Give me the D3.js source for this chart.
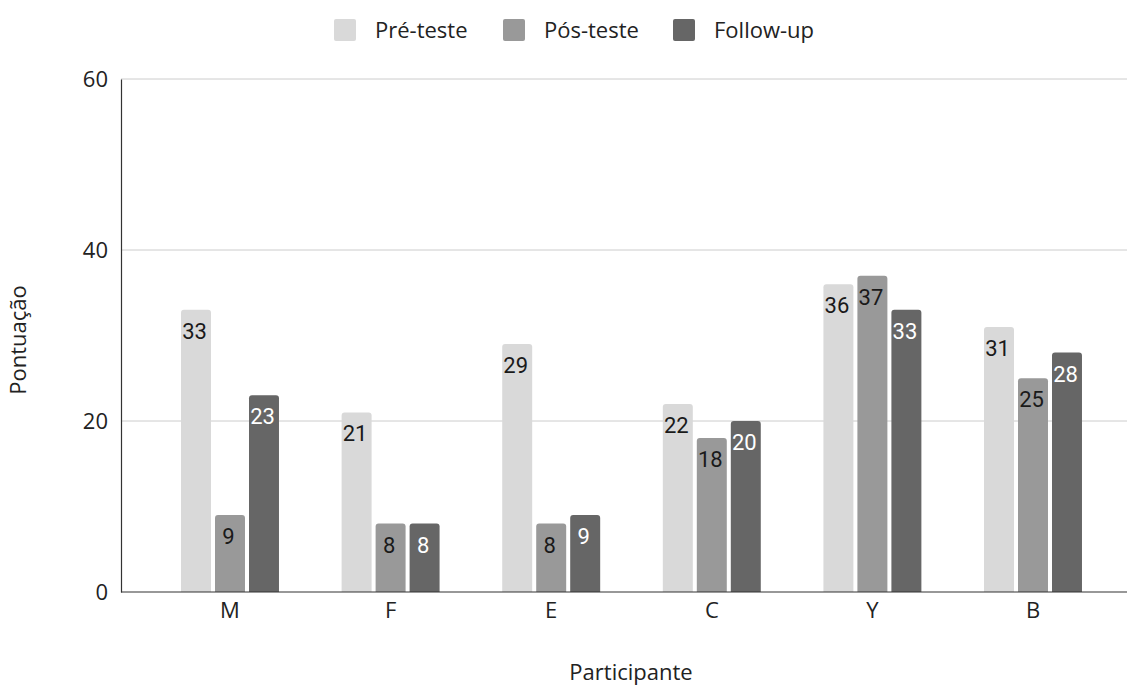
<!DOCTYPE html>
<html>
<head>
<meta charset="utf-8">
<script src="https://cdn.jsdelivr.net/npm/d3@7/dist/d3.min.js"></script>
<style>
  html, body { margin: 0; padding: 0; background: #fff; }
  svg { display: block; }
</style>
</head>
<body>
<svg id="chart" width="1127" height="687"></svg>
<script>
// Participants on the x axis
const participants = ["M", "F", "E", "C", "Y", "B"];
// Series names, in legend order
const seriesNames = ["Pré-teste", "Pós-teste", "Follow-up"];
// Scores per series, one value per participant
const preTeste   = [33, 21, 29, 22, 36, 31];
const posTeste   = [9, 8, 8, 18, 37, 25];
const followUp   = [23, 8, 9, 20, 33, 28];
const yTicks = [0, 20, 40, 60];

const seriesValues = [preTeste, posTeste, followUp];
const colors = ["#d9d9d9", "#999999", "#666666"];
const labelColors = ["#1a1a1a", "#1a1a1a", "#ffffff"];

const svg = d3.select("#chart");
const plot = { left: 121, right: 1127, top: 79, bottom: 592 };
const axisFont = "'Open Sans', 'Noto Sans', sans-serif";

const x0 = d3.scaleBand()
  .domain(participants)
  .range([149.7, 1113.3])
  .paddingInner(0.39)
  .paddingOuter(0.195);

const x1 = d3.scaleBand()
  .domain(seriesNames)
  .range([0, x0.bandwidth()])
  .paddingInner(0.118);

const y = d3.scaleLinear().domain([0, 60]).range([plot.bottom, plot.top]);

// Horizontal gridlines
svg.append("g")
  .selectAll("line")
  .data(yTicks.filter(t => t > 0))
  .join("line")
  .attr("x1", plot.left).attr("x2", plot.right)
  .attr("y1", d => y(d)).attr("y2", d => y(d))
  .attr("stroke", "#cccccc").attr("stroke-width", 1);

// Bars with rounded top corners
function barPath(x, yTop, w, yBase, r) {
  r = Math.min(r, (yBase - yTop) / 2, w / 2);
  return `M${x},${yBase}V${yTop + r}Q${x},${yTop} ${x + r},${yTop}` +
         `H${x + w - r}Q${x + w},${yTop} ${x + w},${yTop + r}V${yBase}Z`;
}

const rows = [];
participants.forEach((p, i) => {
  seriesNames.forEach((s, j) => {
    rows.push({ p, s, j, v: seriesValues[j][i] });
  });
});

const bars = svg.append("g");
bars.selectAll("path")
  .data(rows)
  .join("path")
  .attr("d", d => barPath(x0(d.p) + x1(d.s), y(d.v), x1.bandwidth(), y(0), 3))
  .attr("fill", d => colors[d.j]);

// Value labels inside the top of each bar, with a soft halo
bars.selectAll("text")
  .data(rows)
  .join("text")
  .attr("x", d => x0(d.p) + x1(d.s) + x1.bandwidth() / 2 - 1.5)
  .attr("y", d => y(d.v) + 29)
  .attr("text-anchor", "middle")
  .attr("font-family", "Roboto, sans-serif")
  .attr("font-size", 22)
  .attr("fill", d => labelColors[d.j])
  .attr("stroke", d => colors[d.j])
  .attr("stroke-width", 2.5)
  .attr("stroke-opacity", 0.8)
  .attr("paint-order", "stroke")
  .text(d => d.v);

// Y axis
const yAxis = svg.append("g")
  .attr("transform", `translate(${plot.left},0)`)
  .call(d3.axisLeft(y).tickValues(yTicks).tickSize(0).tickPadding(13));
yAxis.select(".domain").attr("stroke", "#333").attr("stroke-width", 1.2);
yAxis.selectAll("text")
  .attr("font-family", axisFont).attr("font-size", 22).attr("fill", "#222");

// X axis
const xAxis = svg.append("g")
  .attr("transform", `translate(0,${plot.bottom})`)
  .call(d3.axisBottom(x0).tickSize(0).tickPadding(10));
xAxis.select(".domain").remove();
xAxis.append("line")
  .attr("x1", plot.left).attr("x2", plot.right)
  .attr("y1", 0).attr("y2", 0)
  .attr("stroke", "#333").attr("stroke-width", 1.2);
xAxis.selectAll("text")
  .attr("font-family", axisFont).attr("font-size", 22).attr("fill", "#222");

// Axis titles
svg.append("text")
  .attr("x", 631).attr("y", 680)
  .attr("text-anchor", "middle")
  .attr("font-family", axisFont).attr("font-size", 22).attr("fill", "#222")
  .text("Participante");

svg.append("text")
  .attr("transform", "translate(26,340) rotate(-90)")
  .attr("text-anchor", "middle")
  .attr("font-family", axisFont).attr("font-size", 22).attr("fill", "#222")
  .text("Pontuação");

// Legend
const legendX = [334, 503, 673];
const legend = svg.append("g");
const li = legend.selectAll("g")
  .data(seriesNames)
  .join("g")
  .attr("transform", (d, i) => `translate(${legendX[i]},19)`);
li.append("rect")
  .attr("width", 22).attr("height", 22).attr("rx", 2)
  .attr("fill", (d, i) => colors[i]);
li.append("text")
  .attr("x", 41).attr("y", 19)
  .attr("font-family", axisFont).attr("font-size", 22).attr("fill", "#222")
  .text(d => d);
</script>
</body>
</html>
